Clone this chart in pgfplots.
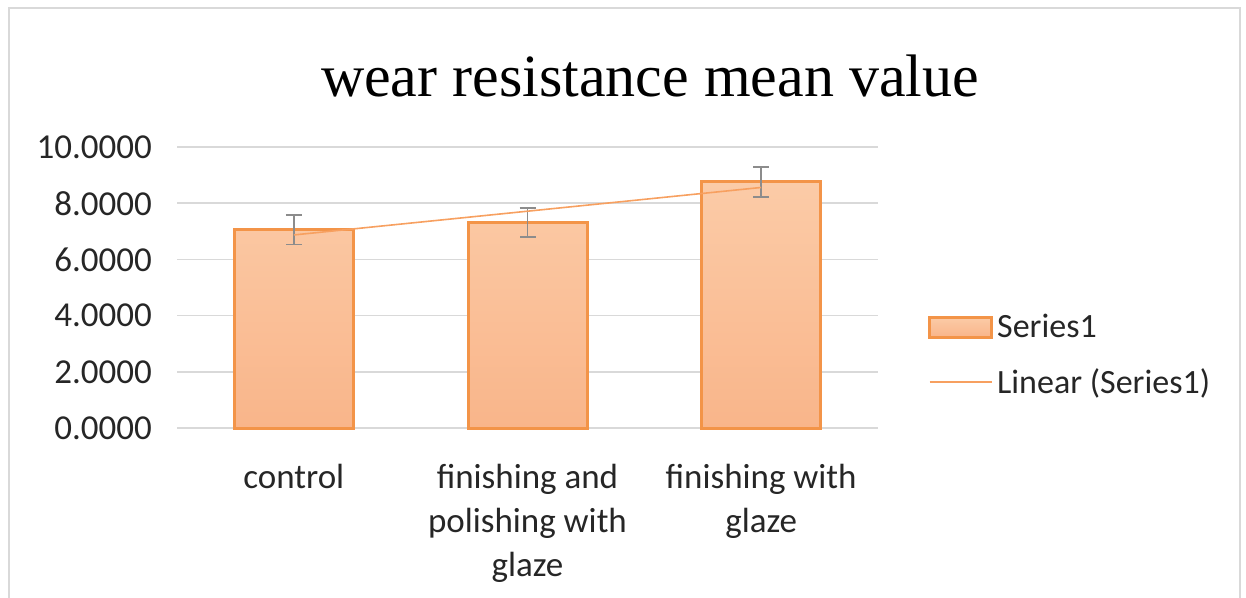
\documentclass[border=0pt]{standalone}
\usepackage{pgfplots}
\pgfplotsset{compat=1.18}
\usepackage{fontspec}
\setmainfont{Carlito}
\newfontfamily\titlefont{Liberation Serif}
\definecolor{barborder}{HTML}{F39448}
\definecolor{bartop}{HTML}{FBCBA7}
\definecolor{barbot}{HTML}{F9B58A}
\definecolor{trendc}{HTML}{F7A060}
\definecolor{gridc}{HTML}{D9D9D9}
\definecolor{errc}{HTML}{8C8C8C}
\definecolor{txt}{HTML}{262626}
\begin{document}
\begin{tikzpicture}
\path[use as bounding box] (0,0) rectangle (623pt,-299pt);
\draw[gridc, line width=1.2pt] (4.5pt,-320pt) -- (4.5pt,-4pt) -- (620pt,-4pt) -- (620pt,-320pt);
\node[anchor=base, inner sep=0pt, font=\titlefont\fontsize{30}{32}\selectfont] at (325pt,-48.5pt) {wear resistance mean value};
\begin{axis}[
  at={(88.5pt,-214pt)}, anchor=south west,
  scale only axis, width=350.5pt, height=140.5pt,
  xmin=0.5, xmax=3.5, ymin=0, ymax=10,
  ytick={0,2,4,6,8,10},
  xtick={1,2,3},
  xticklabels={{control},{finishing and\\polishing with\\glaze},{finishing with\\glaze}},
  axis line style={draw=none},
  major tick length=0pt,
  ymajorgrids, grid style={gridc, line width=0.75pt},
  tick label style={font=\fontsize{17.5}{22}\selectfont, text=txt},
  xticklabel style={align=center, yshift=-14.5pt},
  yticklabel style={xshift=-9pt},
  /pgf/number format/.cd, fixed, fixed zerofill, precision=4, assume math mode=true,
  /pgfplots/.cd,
  legend style={draw=none, fill=none, at={(1.071,0.26)}, anchor=west, inner sep=0pt,
    row sep=10pt, font=\fontsize{17}{20}\selectfont,
    nodes={inner sep=2pt}},
  legend cell align=left,
  clip=false,
]
\addplot[ybar, bar width=59.5pt, draw=barborder, line width=1.5pt, top color=bartop, bottom color=barbot,
  legend image code/.code={\draw[barborder, line width=1.5pt, top color=bartop, bottom color=barbot] (0pt,-5pt) rectangle (31pt,5pt);},
  error bars/.cd, y dir=both, y explicit,
  error bar style={errc, line width=0.8pt},
  error mark options={rotate=90, errc, mark size=4pt, line width=0.8pt}]
  coordinates {(1,7.06) +- (0,0.53) (2,7.31) +- (0,0.52) (3,8.76) +- (0,0.53)};
\addlegendentry{\textcolor{txt}{Series1}}
\addplot[draw=trendc, line width=0.8pt, sharp plot, mark=none,
  legend image code/.code={\draw[draw=trendc, line width=0.8pt] (0pt,0pt) -- (31pt,0pt);}]
  coordinates {(1,6.87) (3,8.56)};
\addlegendentry{\textcolor{txt}{Linear (Series1)}}
\end{axis}
\end{tikzpicture}
\end{document}
